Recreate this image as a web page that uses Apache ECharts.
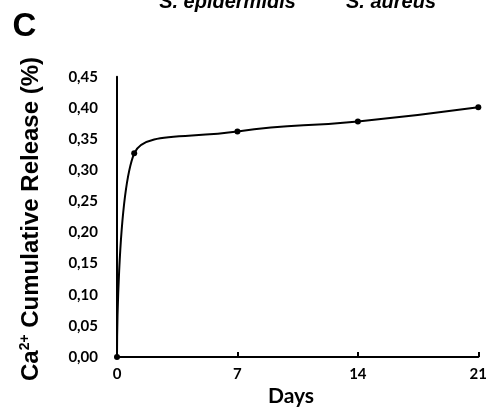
<!DOCTYPE html>
<html><head><meta charset="utf-8">
<script src="https://cdn.jsdelivr.net/npm/echarts@6/dist/echarts.min.js"></script>
<style>html,body{margin:0;padding:0;background:#fff}#c{width:490px;height:407px}</style>
</head><body><div id="c"></div>
<script>
const days = [0, 1, 7, 14, 21];
const release = [0, 0.327, 0.362, 0.378, 0.401];
const xTicks = [0, 7, 14, 21];
const yTickLabels = ['0,00','0,05','0,10','0,15','0,20','0,25','0,30','0,35','0,40','0,45'];
const topLabels = ['S. epidermidis', 'S. aureus'];

const chart = echarts.init(document.getElementById('c'), null, {renderer: 'canvas'});
const lblFont = 'Lato, "Open Sans", sans-serif';
const arial = '"Liberation Sans", Arial, sans-serif';
chart.setOption({
  animation: false,
  backgroundColor: '#fff',
  grid: {left: 117, right: 9, top: 76.7, bottom: 50, containLabel: false},
  xAxis: {
    type: 'value', min: 0, max: 21, interval: 7,
    axisLine: {lineStyle: {color: '#000', width: 2}},
    axisTick: {show: true, inside: true, length: 5, lineStyle: {color: '#000', width: 2}},
    splitLine: {show: false},
    axisLabel: {margin: 10, color: '#000', fontWeight: 'bold', fontSize: 15, fontFamily: lblFont,
      formatter: v => xTicks.includes(v) ? String(v) : ''}
  },
  yAxis: {
    type: 'value', min: 0, max: 0.45, interval: 0.05,
    axisLine: {show: true, lineStyle: {color: '#000', width: 2}},
    axisTick: {show: false},
    splitLine: {show: false},
    axisLabel: {margin: 19, color: '#000', fontWeight: 'bold', fontSize: 15, fontFamily: lblFont,
      formatter: v => yTickLabels[Math.round(v / 0.05)]}
  },
  series: [{
    type: 'line',
    data: days.map((d, i) => [d, release[i]]),
    smooth: 0.5,
    symbol: 'circle', symbolSize: 6,
    lineStyle: {color: '#000', width: 2},
    itemStyle: {color: '#000'}
  }],
  graphic: [
    {type: 'text', x: 24.5, y: 27, style: {text: 'C', fontSize: 33, fontWeight: 'bold', fontFamily: arial, fill: '#000', textAlign: 'center', textVerticalAlign: 'middle'}},
    {type: 'text', x: 227.5, y: 12, style: {text: topLabels[0], fontSize: 20, fontWeight: 'bold', fontStyle: 'italic', fontFamily: arial, fill: '#000', textAlign: 'center', textVerticalAlign: 'bottom'}},
    {type: 'text', x: 391, y: 12, style: {text: topLabels[1], fontSize: 20, fontWeight: 'bold', fontStyle: 'italic', fontFamily: arial, fill: '#000', textAlign: 'center', textVerticalAlign: 'bottom'}},
    {type: 'text', x: 291, y: 396, style: {text: 'Days', fontSize: 21, fontWeight: 'bold', fontFamily: lblFont, fill: '#000', textAlign: 'center', textVerticalAlign: 'middle'}},
    {type: 'text', x: 31, y: 219, rotation: Math.PI / 2,
      style: {
        text: 'Ca{s|2+} Cumulative Release (%)',
        rich: {s: {fontSize: 14, fontWeight: 'bold', fontFamily: arial, fill: '#000', verticalAlign: 'top', padding: [0, 0, 11, 0]}},
        fontSize: 24, fontWeight: 'bold', fontFamily: arial, fill: '#000', textAlign: 'center', textVerticalAlign: 'middle'}}
  ]
});
</script></body></html>
